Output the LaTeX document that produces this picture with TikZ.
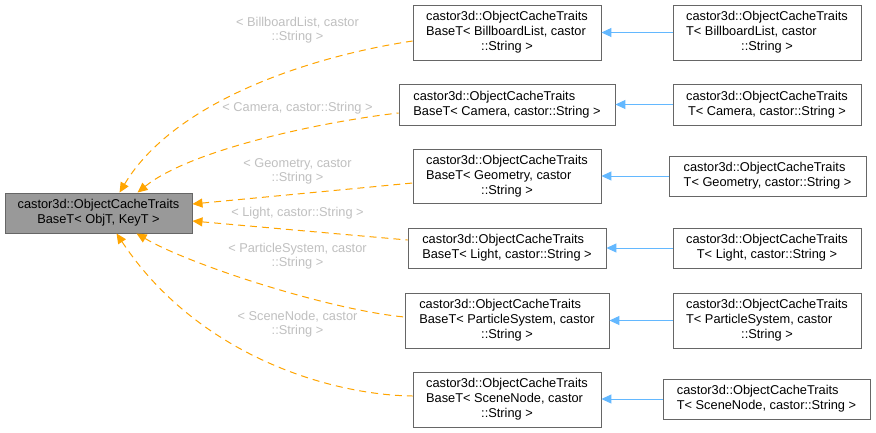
\documentclass[tikz,border=0pt]{standalone}
\usepackage{fontspec}
\setmainfont{Liberation Sans}
\usetikzlibrary{arrows.meta}
\definecolor{edgeor}{HTML}{FFA500}
\definecolor{edgebl}{HTML}{63B8FF}
\definecolor{boxline}{HTML}{666666}
\definecolor{rootfill}{HTML}{999999}
\definecolor{lblgray}{HTML}{C0C0C0}
\newcommand{\lastline}[1]{\multicolumn{1}{@{}c@{}}{#1}}
\begin{document}
\begin{tikzpicture}[x=1pt,y=-1pt,
  box/.style={draw=boxline, line width=0.9pt, fill=white, inner sep=0pt, align=center,
    font=\fontsize{12.8}{15}\selectfont},
  rootbox/.style={box, fill=rootfill},
  lbl/.style={text=lblgray, inner sep=0pt, align=center, font=\fontsize{12.8}{14}\selectfont},
  inh/.style={draw=edgeor, line width=1pt, dash pattern=on 7pt off 5pt,
    {Triangle[length=10pt,width=9pt,fill=edgeor]}-},
  tmpl/.style={draw=edgebl, line width=1pt,
    {Triangle[length=10pt,width=9pt,fill=edgebl]}-}]
\useasboundingbox (0,0) rectangle (876,432);
\fill[white] (0,0) rectangle (876,432);

\node[rootbox, minimum width=187, minimum height=40] (root) at (98.5,213)
  {\begin{tabular}{@{}l@{}}castor3d::ObjectCacheTraits\\\lastline{BaseT< ObjT, KeyT >}\end{tabular}};

\node[box, minimum width=188, minimum height=55] (b1) at (507,32.5)
  {\begin{tabular}{@{}l@{}}castor3d::ObjectCacheTraits\\BaseT< BillboardList, castor\\\lastline{::String >}\end{tabular}};
\node[box, minimum width=216, minimum height=41] (b2) at (507,104.5)
  {\begin{tabular}{@{}l@{}}castor3d::ObjectCacheTraits\\\lastline{BaseT< Camera, castor::String >}\end{tabular}};
\node[box, minimum width=188, minimum height=54] (b3) at (507,176)
  {\begin{tabular}{@{}l@{}}castor3d::ObjectCacheTraits\\BaseT< Geometry, castor\\\lastline{::String >}\end{tabular}};
\node[box, minimum width=198, minimum height=40] (b4) at (507,248)
  {\begin{tabular}{@{}l@{}}castor3d::ObjectCacheTraits\\\lastline{BaseT< Light, castor::String >}\end{tabular}};
\node[box, minimum width=204, minimum height=55] (b5) at (507,320.5)
  {\begin{tabular}{@{}l@{}}castor3d::ObjectCacheTraits\\BaseT< ParticleSystem, castor\\\lastline{::String >}\end{tabular}};
\node[box, minimum width=188, minimum height=55] (b6) at (507,399.5)
  {\begin{tabular}{@{}l@{}}castor3d::ObjectCacheTraits\\BaseT< SceneNode, castor\\\lastline{::String >}\end{tabular}};

\node[box, minimum width=188, minimum height=55] (t1) at (767,32.5)
  {\begin{tabular}{@{}l@{}}castor3d::ObjectCacheTraits\\T< BillboardList, castor\\\lastline{::String >}\end{tabular}};
\node[box, minimum width=188, minimum height=41] (t2) at (767,104.5)
  {\begin{tabular}{@{}l@{}}castor3d::ObjectCacheTraits\\\lastline{T< Camera, castor::String >}\end{tabular}};
\node[box, minimum width=197, minimum height=40] (t3) at (767.5,176)
  {\begin{tabular}{@{}l@{}}castor3d::ObjectCacheTraits\\\lastline{T< Geometry, castor::String >}\end{tabular}};
\node[box, minimum width=188, minimum height=40] (t4) at (767,248)
  {\begin{tabular}{@{}l@{}}castor3d::ObjectCacheTraits\\\lastline{T< Light, castor::String >}\end{tabular}};
\node[box, minimum width=188, minimum height=55] (t5) at (767,320.5)
  {\begin{tabular}{@{}l@{}}castor3d::ObjectCacheTraits\\T< ParticleSystem, castor\\\lastline{::String >}\end{tabular}};
\node[box, minimum width=207, minimum height=40] (t6) at (766.5,399)
  {\begin{tabular}{@{}l@{}}castor3d::ObjectCacheTraits\\\lastline{T< SceneNode, castor::String >}\end{tabular}};

% inheritance edges (orange dashed)
\draw[inh] ([xshift=115pt]root.north west) .. controls (175,100) and (313,56) .. ([yshift=-8.5pt]b1.west);
\draw[inh] ([xshift=133pt]root.north west) .. controls (190,150) and (320,122) .. ([yshift=-8.5pt]b2.west);
\draw[inh] ([yshift=9pt]root.east) -- ([yshift=-7pt]b3.west);
\draw[inh] ([yshift=-8pt]root.east) -- ([yshift=8pt]b4.west);
\draw[inh] ([xshift=132pt]root.south west) .. controls (190,265) and (330,310) .. ([yshift=3.5pt]b5.west);
\draw[inh] ([xshift=112pt]root.south west) .. controls (197,355) and (330,395) .. ([yshift=3.5pt]b6.west);

% template edges (blue)
\draw[tmpl] (b1.east) -- (t1.west);
\draw[tmpl] (b2.east) -- (t2.west);
\draw[tmpl] (b3.east) -- (t3.west);
\draw[tmpl] (b4.east) -- (t4.west);
\draw[tmpl] (b5.east) -- (t5.west);
\draw[tmpl] (b6.east |- t6.west) -- (t6.west);

% labels
\node[lbl] (l1) at (297.5,31) {\begin{tabular}{@{}l@{}}< BillboardList, castor\\\lastline{::String >}\end{tabular}};
\node[lbl] (l2) at (297.5,108) {< Camera, castor::String >};
\node[lbl] (l3) at (297.5,171.5) {\begin{tabular}{@{}l@{}}< Geometry, castor\\\lastline{::String >}\end{tabular}};
\node[lbl] (l4) at (297.5,213) {< Light, castor::String >};
\node[lbl] (l5) at (297.5,256.5) {\begin{tabular}{@{}l@{}}< ParticleSystem, castor\\\lastline{::String >}\end{tabular}};
\node[lbl] (l6) at (297.5,324.5) {\begin{tabular}{@{}l@{}}< SceneNode, castor\\\lastline{::String >}\end{tabular}};
\end{tikzpicture}
\end{document}
